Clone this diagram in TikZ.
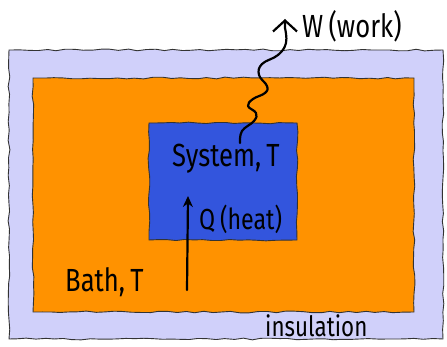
\documentclass[tikz,border=0pt]{standalone}
\usepackage{fontspec}
\setmainfont[FakeStretch=0.8]{Fira Sans}
\usetikzlibrary{decorations.pathmorphing,arrows.meta}
\begin{document}
\begin{tikzpicture}[x=1pt,y=-1pt,
  rough/.style={draw=black!80,line width=0.9pt,
    decorate,decoration={random steps,segment length=9pt,amplitude=0.9pt}},
  region/.style={rough,rectangle,inner sep=0pt,outer sep=0pt},
  hand/.style={font=\fontsize{32}{36}\selectfont,inner sep=0pt,anchor=base west},
  flow/.style={line width=2.2pt,line cap=round,line join=round}]
\useasboundingbox (0,0) rectangle (447,347);
\definecolor{insul}{RGB}{208,208,250}
\definecolor{bathc}{RGB}{255,146,0}
\definecolor{sysc}{RGB}{51,85,221}

\node[region,fill=insul,minimum width=434pt,minimum height=289pt] (outer) at (226,194.5) {};
\node[region,fill=bathc,minimum width=381pt,minimum height=234pt] (bath) at (223.5,195) {};
\node[region,fill=sysc,minimum width=148pt,minimum height=117pt] (system) at (223,181.5) {};

\node[hand] (systxt) at (172,167) {System,\,T};
\node[hand,font=\fontsize{29}{33}\selectfont] (heattxt) at (199,230) {Q\,(heat)};
\node[hand] (bathtxt) at (65,292) {Bath,\,T};
\node[hand] (worktxt) at (302,38) {W\,(work)};
\node[hand,font=\fontsize{28}{32}\selectfont] (insultxt) at (265,336) {insulation};

% heat flowing from the bath into the system
\coordinate (qin) at (187,290);
\coordinate (qtip) at (188,196);
\draw[flow,-{Stealth[length=11pt,width=10pt]}] (qin) -- (qtip);

% work leaving through the insulation
\coordinate (wstart) at (240,143);
\coordinate (wtip) at (285,19);
\draw[flow,-{Straight Barb[length=11pt,width=24pt,line width=2.2pt]}]
  plot[smooth,tension=0.7] coordinates {
    (wstart) (242,131) (254,121) (256,113) (248,106) (253,99) (265,93)
    (267,86) (259,75) (262,64) (278,55) (286,43) (285,28)}
  -- (wtip);
\end{tikzpicture}
\end{document}
